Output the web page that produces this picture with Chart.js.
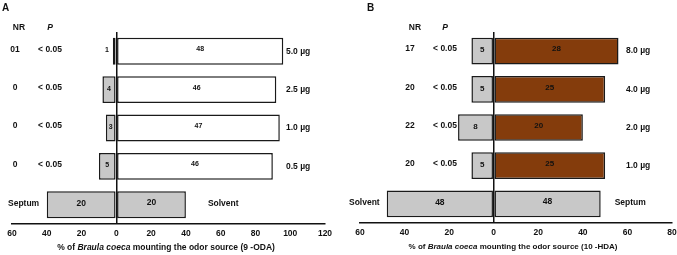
<!DOCTYPE html>
<html>
<head>
<meta charset="utf-8">
<script src="https://cdn.jsdelivr.net/npm/chart.js@4.4.0/dist/chart.umd.min.js"></script>
<style>
  body { margin: 0; background: #fff; overflow: hidden; }
  canvas { position: absolute; top: 0; }
</style>
</head>
<body>
<canvas id="chartA" width="338" height="255" style="left:0px"></canvas>
<canvas id="chartB" width="345" height="255" style="left:338px"></canvas>
<script>
const FONT = "'Liberation Sans', Arial, sans-serif";

// Panel A (9-ODA) - bar lengths in % , counts as printed
const rowsA = ["5.0 µg", "2.5 µg", "1.0 µg", "0.5 µg", "Solvent"];
const leftA = [-2, -8, -6, -10, -40];
const rightA = [96, 92, 94, 90, 40];
const countLeftA = ["1", "4", "3", "5", "20"];
const countRightA = ["48", "46", "47", "46", "20"];
const nrA = ["01", "0", "0", "0"];
const pA = ["< 0.05", "< 0.05", "< 0.05", "< 0.05"];
const controlLeftA = "Septum";
const rangeA = [-60, 120];

// Panel B (10-HDA)
const rowsB = ["8.0 µg", "4.0 µg", "2.0 µg", "1.0 µg", "Septum"];
const leftB = [-10, -10, -16, -10, -48];
const rightB = [56, 50, 40, 50, 48];
const countLeftB = ["5", "5", "8", "5", "48"];
const countRightB = ["28", "25", "20", "25", "48"];
const nrB = ["17", "20", "22", "20"];
const pB = ["< 0.05", "< 0.05", "< 0.05", "< 0.05"];
const controlLeftB = "Solvent";
const rangeB = [-60, 80];

const GREY = "#c8c8c8";
const BROWN = "#843c0c";

function annotate(p) {
  return {
    id: "annot" + p.letter,
    afterDatasetsDraw(chart) {
      const ctx = chart.ctx;
      const ys = chart.scales.y;
      const area = chart.chartArea;
      const metaL = chart.getDatasetMeta(0).data;
      const metaR = chart.getDatasetMeta(1).data;
      ctx.save();
      ctx.fillStyle = "#111";
      ctx.textBaseline = "middle";

      ctx.font = "bold 10px " + FONT;
      ctx.textAlign = "left";
      ctx.fillText(p.letter, p.letterX, 8);

      ctx.font = "bold 8.5px " + FONT;
      ctx.textAlign = "center";
      ctx.fillText("NR", p.nrHeadX, 28);
      ctx.font = "italic bold 8.5px " + FONT;
      ctx.fillText("P", p.pX, 28);

      for (let i = 0; i < p.rows.length; i++) {
        const y = ys.getPixelForValue(i);
        ctx.font = "bold 8.5px " + FONT;
        if (i < p.nr.length) {
          ctx.textAlign = "center";
          ctx.fillText(p.nr[i], p.nrX, y - 2);
          ctx.fillText(p.p[i], p.pX, y - 2);
          ctx.textAlign = "left";
          ctx.fillText(p.rows[i], p.doseX, y);
        } else {
          ctx.textAlign = "left";
          ctx.fillText(p.controlLeft, p.ctrlLeftX, y - 1);
          ctx.fillText(p.rows[i], metaR[i].x + p.ctrlGap, y - 1);
        }

        // counts
        ctx.font = "bold " + (i < p.nr.length ? p.countSize : 8.5) + "px " + FONT;
        const l = metaL[i];
        if (Math.abs(l.x - l.base) < 7) {
          ctx.textAlign = "right";
          ctx.fillText(p.countL[i], Math.min(l.x, l.base) - 4, y - 1);
        } else {
          ctx.textAlign = "center";
          ctx.fillText(p.countL[i], (l.x + l.base) / 2, y - 1);
        }
        const r = metaR[i];
        ctx.textAlign = "center";
        ctx.fillText(p.countR[i], (r.x + r.base) / 2, y - 2);
      }

      // axis title with italic species name
      const fs = p.titleSize + "px ";
      const parts = [
        ["% of ", "bold " + fs],
        ["Braula coeca", "italic bold " + fs],
        [" mounting the odor source (" + p.compound + ")", "bold " + fs]
      ];
      let total = 0;
      parts.forEach(([t, f]) => { ctx.font = f + FONT; total += ctx.measureText(t).width; });
      let x = p.titleX - total / 2;
      ctx.textAlign = "left";
      parts.forEach(([t, f]) => {
        ctx.font = f + FONT;
        ctx.fillText(t, x, area.bottom + 24);
        x += ctx.measureText(t).width;
      });
      ctx.restore();
    }
  };
}

function makePanel(id, p) {
  const ctx = document.getElementById(id).getContext("2d");
  const rightColors = p.rows.map((r, i) => (i < p.nr.length ? p.rightColor : GREY));
  new Chart(ctx, {
    type: "bar",
    data: {
      labels: p.rows,
      datasets: [
        {
          data: p.left,
          backgroundColor: GREY,
          borderColor: "#1a1a1a",
          borderWidth: 1.5,
          borderSkipped: false,
          barPercentage: 0.7,
          categoryPercentage: 1
        },
        {
          data: p.right,
          backgroundColor: rightColors,
          borderColor: "#1a1a1a",
          borderWidth: 1.5,
          borderSkipped: false,
          barPercentage: 0.7,
          categoryPercentage: 1
        }
      ]
    },
    options: {
      indexAxis: "y",
      responsive: false,
      animation: false,
      devicePixelRatio: 1,
      layout: { padding: p.padding },
      plugins: { legend: { display: false }, tooltip: { enabled: false } },
      scales: {
        y: { stacked: true, display: false },
        x: {
          stacked: true,
          min: p.range[0],
          max: p.range[1],
          afterFit: (s) => { s.height = 16; },
          border: { display: true, color: "#111", width: 1.5 },
          grid: {
            drawTicks: false,
            lineWidth: 1.5,
            color: (c) => (c.tick && c.tick.value === 0 ? "#111" : "rgba(0,0,0,0)")
          },
          ticks: {
            stepSize: 20,
            padding: 5,
            color: "#111",
            font: { family: FONT, size: 8.5, weight: "bold" },
            callback: (v) => Math.abs(v)
          }
        }
      }
    },
    plugins: [annotate(p)]
  });
}

makePanel("chartA", {
  letter: "A", letterX: 2,
  rows: rowsA, left: leftA, right: rightA, countL: countLeftA, countR: countRightA,
  nr: nrA, p: pA, controlLeft: controlLeftA, range: rangeA, compound: "9 -ODA",
  rightColor: "#ffffff", countSize: 7, titleSize: 8.5,
  padding: { left: 12, right: 13, top: 32, bottom: 15 },
  nrHeadX: 19, nrX: 15, pX: 50, doseX: 286, ctrlLeftX: 8, ctrlGap: 22, titleX: 166
});

makePanel("chartB", {
  letter: "B", letterX: 29,
  rows: rowsB, left: leftB, right: rightB, countL: countLeftB, countR: countRightB,
  nr: nrB, p: pB, controlLeft: controlLeftB, range: rangeB, compound: "10 -HDA",
  rightColor: BROWN, countSize: 8, titleSize: 8,
  padding: { left: 22, right: 11, top: 32, bottom: 16 },
  nrHeadX: 77, nrX: 72, pX: 107, doseX: 288, ctrlLeftX: 11, ctrlGap: 14, titleX: 175
});
</script>
</body>
</html>
